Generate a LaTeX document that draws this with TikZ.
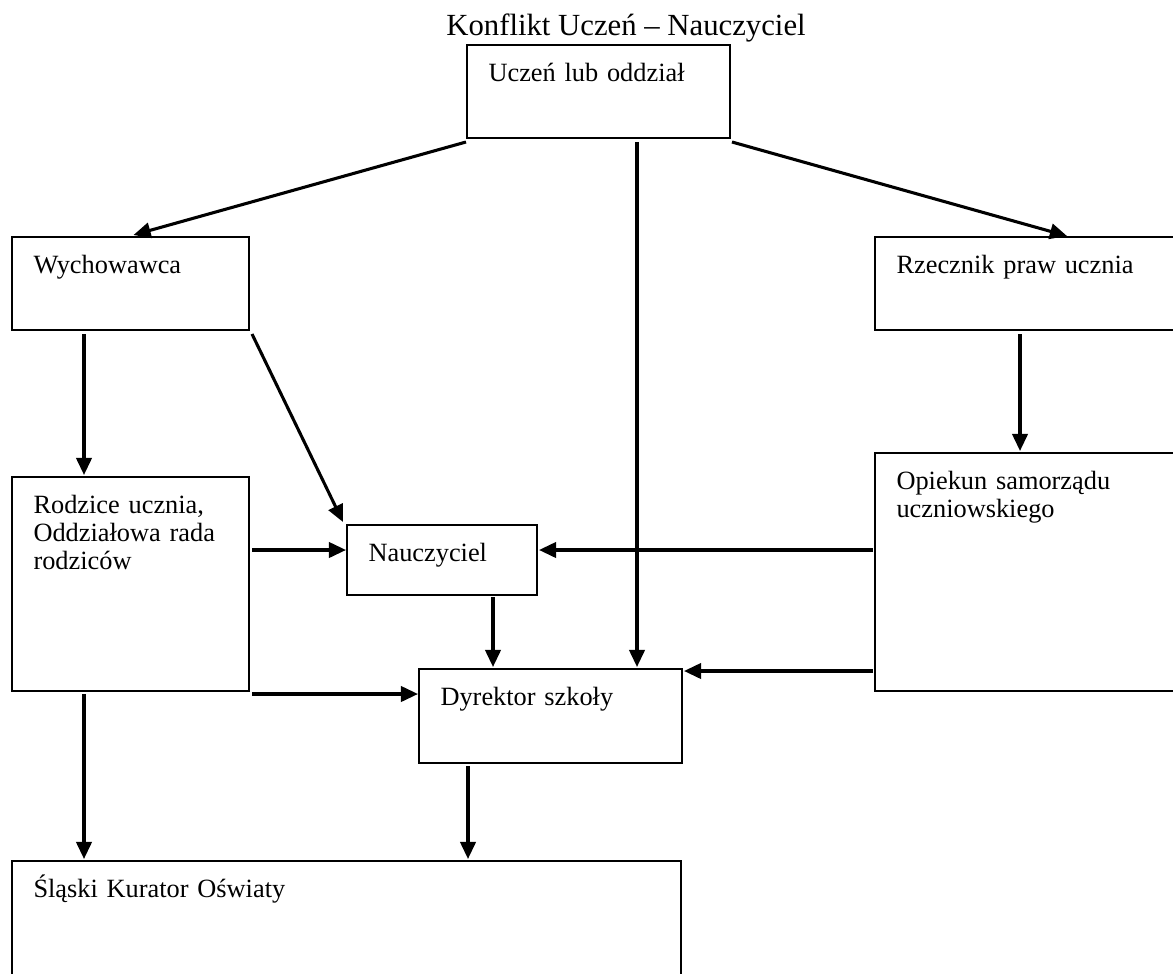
\documentclass[tikz,border=0pt]{standalone}
\usepackage{fontspec}
\setmainfont{Liberation Serif}
\usetikzlibrary{arrows.meta}
\begin{document}
\begin{tikzpicture}
        [x=0.016cm, y=-0.016cm,
        box/.style={rectangle, draw, line width=1.1pt, anchor=north west, inner sep=0pt, outer sep=0pt},
        txt/.style={anchor=north west, inner sep=0pt, xshift=9.6pt, yshift=-9.6pt, text width=#1, align=left, text height=0.68em, font=\fontsize{12}{12.8}\selectfont},
        arr/.style={line width=1.4pt, -{Triangle[length=7.8pt, width=7pt]}}]
        \useasboundingbox (0,0) rectangle (1173,973);
        \node[anchor=base, inner sep=0pt, font=\fontsize{14}{16}\selectfont] (title) at (626,36) {Konflikt Uczeń – Nauczyciel};

        \node[box, minimum width=263*0.016cm, minimum height=93*0.016cm, label={[txt=5cm]north west:Uczeń lub oddział}] (ucz) at (467,45) {};
        \node[box, minimum width=237*0.016cm, minimum height=93*0.016cm, label={[txt=4cm]north west:Wychowawca}] (wych) at (12,237) {};
        \node[box, minimum width=310*0.016cm, minimum height=93*0.016cm, label={[txt=5cm]north west:Rzecznik praw ucznia}] (rzecz) at (875,237) {};
        \node[box, minimum width=237*0.016cm, minimum height=214*0.016cm, label={[txt=4cm]north west:Rodzice ucznia,\\Oddziałowa rada\\rodziców}] (rodz) at (12,477) {};
        \node[box, minimum width=310*0.016cm, minimum height=238*0.016cm, label={[txt=5cm]north west:Opiekun samorządu\\uczniowskiego}] (opiek) at (875,453) {};
        \node[box, minimum width=190*0.016cm, minimum height=70*0.016cm, label={[txt=3cm]north west:Nauczyciel}] (naucz) at (347,525) {};
        \node[box, minimum width=263*0.016cm, minimum height=94*0.016cm, label={[txt=4cm]north west:Dyrektor szkoły}] (dyr) at (419,669) {};
        \node[box, minimum width=669*0.016cm, minimum height=130*0.016cm, label={[txt=8cm]north west:Śląski Kurator Oświaty}] (kur) at (12,861) {};

        % od ucznia
        \draw[arr] ([shift={(-1,4)}]ucz.south west) -- ([shift={(3,-2)}]wych.north);
        \draw[arr] ([shift={(2,4)}]ucz.south east) -- ([shift={(192,-1)}]rzecz.north west);
        \draw[arr] ([shift={(170,4)}]ucz.south west) -- ([shift={(218,-2)}]dyr.north west);

        % wychowawca, rzecznik
        \draw[arr] ([shift={(72,4)}]wych.south west) -- ([shift={(72,-2)}]rodz.north west);
        \draw[arr] ([shift={(3,4)}]wych.south east) -- ([shift={(-4,-3)}]naucz.north west);
        \draw[arr] ([shift={(145,4)}]rzecz.south west) -- ([shift={(145,-2)}]opiek.north west);

        % do nauczyciela i dyrektora
        \draw[arr] ([shift={(3,73)}]rodz.north east) -- ([shift={(-1,25)}]naucz.north west);
        \draw[arr] ([shift={(-2,97)}]opiek.north west) -- ([shift={(2,25)}]naucz.north east);
        \draw[arr] ([shift={(146,2)}]naucz.south west) -- ([shift={(74,-2)}]dyr.north west);
        \draw[arr] ([shift={(-2,218)}]opiek.north west) -- ([shift={(2,2)}]dyr.north east);
        \draw[arr] ([shift={(3,3)}]rodz.south east) -- ([shift={(-1,25)}]dyr.north west);

        % do kuratora
        \draw[arr] ([shift={(72,3)}]rodz.south west) -- ([shift={(72,-2)}]kur.north west);
        \draw[arr] ([shift={(49,3)}]dyr.south west) -- ([shift={(456,-2)}]kur.north west);
    \end{tikzpicture}
\end{document}
